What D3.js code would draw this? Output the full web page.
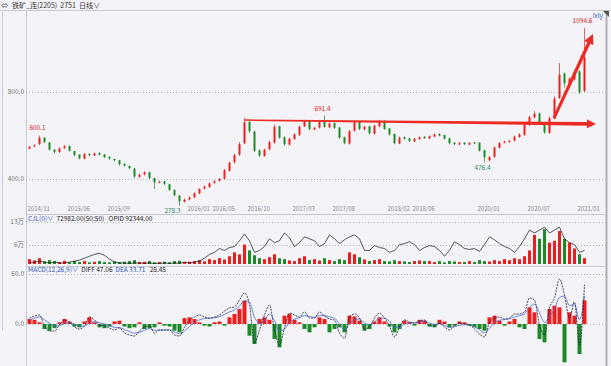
<!DOCTYPE html>
<html><head><meta charset="utf-8">
<script src="https://cdn.jsdelivr.net/npm/d3@7"></script>
<style>
html,body{margin:0;padding:0;background:#f4f4f8;}
svg{display:block;font-family:"Noto Sans CJK SC","Noto Sans",sans-serif;}
</style></head><body>
<svg id="c" width="611" height="366"></svg>
<script>
const title = "铁矿_连(2205)  2751  日线∨";
const opens = [540,550,560,590,568,535,524,542,552,528, 512,494,516,508,520,513,502,492,486,470,
 460,448,410,421,432,404,383,389,376,350, 324,296,306,316,334,356,363,382,392,402,
 438,478,512,565,662,618,532,506,537,568, 642,592,558,584,603,642,667,628,637,668,
 638,657,637,592,563,622,662,628,642,608, 643,667,632,607,563,592,587,573,583,594,
 586,595,607,602,587,567,558,567,558,568, 567,532,486,502,543,567,570,577,593,603,
 648,683,702,658,612,678,772,885,838,858, 895,805];
const highs = [552,560,600.1,592,570,538,545,556,554,530, 514,520,518,522,522,515,504,494,488,472,
 462,450,424,436,434,406,392,392,378,352, 326,310,320,338,358,370,384,394,404,446,
 480,516,570,682,668,622,536,540,576,650, 645,596,590,610,645,672,670,640,672,691.4,
 660,660,640,595,625,668,665,645,645,650, 672,670,635,610,595,596,590,588,596,597,
 600,610,610,604,590,570,570,569,570,570, 570,535,505,550,570,576,580,600,610,656,
 692,712,705,660,686,780,933,890,868,900, 900,1094.6];
const lows = [536,545,556,565,530,518,520,538,526,505, 490,490,505,505,508,496,488,482,462,456,
 444,404,406,416,400,354,380,372,345,320, 278.3,292,302,312,330,352,360,378,388,398,
 434,470,506,560,612,524,500,502,532,562, 585,552,554,580,598,638,624,624,632,636,
 634,630,585,560,558,618,625,624,605,604, 638,626,600,560,560,580,570,570,580,584,
 583,592,596,582,560,555,555,556,555,560, 526,476.4,482,498,540,564,566,572,590,598,
 644,678,650,607,608,675,768,820,832,852, 790,800];
const closes = [548,555,590,570,535,525,540,550,530,510, 495,515,510,518,512,500,494,487,468,462,
 450,412,420,430,405,385,387,378,350,326, 298,305,315,335,354,365,380,390,400,440,
 475,510,560,660,620,530,508,535,570,640, 590,560,585,605,640,665,630,635,665,640,
 655,635,590,565,620,660,630,640,610,645, 665,630,605,565,590,585,575,585,592,588,
 597,605,600,585,565,560,565,560,566,565, 530,500,500,545,565,572,575,595,605,650,
 685,700,655,615,680,770,880,840,860,890, 800,960];
// volume and open interest, thousands of lots
const volumes = [15,11,18,8,12,9,6,10,5,9, 6,9,5,7,9,6,5,8,6,7, 9,12,6,7,9,5,6,7,5,9,
 10,6,7,9,12,8,15,12,18,14, 24,36,30,60,42,27,18,15,21,30, 18,15,11,9,18,24,12,15,11,18,
 12,9,15,12,36,30,21,14,9,12, 15,9,8,12,9,8,6,9,11,9, 9,6,9,5,9,8,6,6,9,6,
 12,9,8,12,9,15,12,18,15,24, 42,90,78,108,66,72,102,78,66,48, 30,18];
const openInterest = [3,6,9,6,3,6,3,3,6,9, 12,18,24,30,33,27,15,6,3,3, 2,3,3,2,3,2,2,3,2,3,
 2,6,3,6,9,18,30,36,48,42, 51,54,72,93,72,36,42,54,78,66, 72,96,81,54,66,84,78,72,54,63,
 90,78,63,75,84,90,78,42,42,57, 51,48,36,42,60,63,69,60,42,51, 57,54,42,24,42,69,60,48,45,48,
 39,60,84,75,63,54,48,36,54,78, 105,96,105,114,96,105,114,78,66,60, 36,42];
const diff = [7.2,9.6,10.8,-2.4,-8.4,-8.4,-1.2,4.8,2.4,-3.6, -6,-2.4,8.4,4.8,-1.2,-2.4,-4.8,-7.2,-4.8,-10.8,
 -13.2,-14.4,-8.4,-3.6,-2.4,-10.8,-7.2,-7.2,-7.2,-13.2, -14.4,-3.6,4.8,8.4,10.8,8.4,7.2,8.4,10.8,15.6,
 19.2,20.4,28.8,37.2,22.8,-22.8,-7.2,10.8,22.8,-7.2, -25.2,-4.8,13.2,10.8,8.4,14.4,7.2,7.2,14.4,9.6,
 6,4.8,-10.8,-16.8,8.4,12,7.2,-6,-3.6,7.2, 13.2,7.2,-2.4,-15.6,-3.6,4.8,2.4,1.2,3.6,4.8,
 -2.4,-2.4,1.2,-3.6,-7.2,-2.4,1.2,0,-1.2,-6, -12,-15.6,2.4,7.2,8.4,6,7.2,12,12,14.4,
 31.2,28.8,-1.2,-13.2,19.2,31.2,54,34.8,7.2,26.4, -25.2,47.06];
const dea = [5,7,8.5,5,1,-2.5,-2,0.5,1.5,0, -2.5,-2.5,1.5,2.8,1.5,0,-2,-4,-4.3,-6.5,
 -9,-11,-10,-7.5,-5.5,-7.5,-7.4,-7.3,-7.2,-9.5, -11.5,-8.5,-3,1.5,5,6.5,6.8,7.4,8.8,11.5,
 14.5,17,21.5,28,26,8,1,4,12,4, -8,-6,2,6,7.5,10,9,8,10.5,10, 8.5,7,0,-7,0,5,6,1,-1,2.5,
 7,7,3,-4,-4,0,1.2,1.2,2.3,3.5, 1,-0.5,0.3,-1.5,-4,-3.2,-1.5,-0.8,-1,-3,
 -7,-10.5,-5,1,4.5,5.3,6.2,8.5,10,12, 20,24,13.5,2,9,18,32,33.5,22,24, 5,33.71];
const macdHist = [6,5,2,-6,-8,-5,2,6,3,-3, -4,3,8,2,-4,-5,-3,3,4,-3, -5,-4,2,-6,-5,-4,2,-2,-3,-8,
 -10,7,8,6,2,-2,-3,2,3,-2, 8,12,18,28,-14,-24,6,8,5,-18, -28,10,12,5,2,-6,-10,-4,8,6,
 -10,-6,-4,-10,10,9,4,-8,-6,3, 8,3,-3,-10,-6,4,2,-2,5,4, -3,-4,5,3,-4,-2,3,2,-2,-4,
 -6,-8,8,10,4,-2,3,6,-4,-6, 20,14,-18,-22,18,22,20,-46,14,10, -36,28.45];
const priceTicks = [400, 800];
const volTicks = [60, 130];
const volTickLabels = ["6万", "13万"];
const macdTicks = [0, 60];
const dateTickIndex = [0, 8, 16, 32, 37, 44, 53, 61, 72, 77, 90, 100, 110];
const dateTickLabels = ["2014/11","2015/06","2015/09","2016/01","2016/05","2016/10","2017/03","2017/08","2018/02","2018/06","2020/01","2020/07","2021/01"];
const markIndex = [2, 59, 91, 30, 111];
const markText = ["600.1", "691.4", "476.4", "278.3", "1094.6"];
const markIsHigh = [true, true, false, false, true];
const arrowFrom = [[43.1, 671], [104.9, 680]];
const arrowTo = [[113.3, 653], [112.7, 1067]];

const N = closes.length;
const W = 611, H = 366;
const RED = "#ee1d1d", GREEN = "#1b8a27";
const svg = d3.select("#c");
const x = d3.scaleLinear().domain([0, N - 1]).range([29.5, 29.5 + 5 * (N - 1)]);
const yP = d3.scaleLinear().domain([400, 800]).range([179, 92]);
const yV = d3.scaleLinear().domain([0, 130]).range([264, 222]);
const yM = d3.scaleLinear().domain([0, 60]).range([324, 274]);
const L = 26, R = 606;

svg.append("rect").attr("width", W).attr("height", H).attr("fill", "#f4f4f8");
const g0 = svg.append("g").attr("stroke", "#c8c8d0").attr("stroke-width", 1);
g0.append("line").attr("x1", 0).attr("x2", W).attr("y1", 10.5).attr("y2", 10.5);
g0.append("line").attr("x1", L + 0.5).attr("x2", L + 0.5).attr("y1", 10).attr("y2", H);
g0.append("line").attr("x1", 2.5).attr("x2", 2.5).attr("y1", 12).attr("y2", 330);
g0.append("line").attr("x1", R + 0.5).attr("x2", R + 0.5).attr("y1", 10).attr("y2", H).attr("stroke", "#b0b0b8").attr("stroke-width", 2);
g0.append("line").attr("x1", L).attr("x2", R).attr("y1", 214.5).attr("y2", 214.5);
g0.append("line").attr("x1", L).attr("x2", R).attr("y1", 266.5).attr("y2", 266.5);
svg.append("path").attr("d", "M603,11 L609,11 L609,17 Z").attr("fill", "#555");

svg.append("text").attr("x", 1).attr("y", 8).attr("font-size", 7).attr("fill", "#555").text("⇔");
svg.append("text").attr("x", 12).attr("y", 8).attr("font-size", 7).attr("fill", "#333").attr("xml:space", "preserve").text(title);
svg.append("text").attr("x", 603).attr("y", 18).attr("font-size", 6.5).attr("fill", "#3456c8").attr("text-anchor", "end").text("Ixly");

function grid(scale, ticks, labels) {
  ticks.forEach((t, k) => {
    svg.append("line").attr("x1", L).attr("x2", R).attr("y1", Math.round(scale(t)) + 0.5).attr("y2", Math.round(scale(t)) + 0.5)
      .attr("stroke", "#b4b4bc").attr("stroke-dasharray", "1,2");
    svg.append("text").attr("x", 24).attr("y", scale(t)).attr("dy", "0.35em").attr("text-anchor", "end")
      .attr("font-size", 6.5).attr("fill", "#777").text(labels[k]);
  });
}
grid(yP, priceTicks, priceTicks.map(d => d.toFixed(1)));
grid(yV, volTicks, volTickLabels);
grid(yM, macdTicks, macdTicks.map(d => d.toFixed(1)));

const idx = d3.range(N);
const up = i => closes[i] >= opens[i];
const cg = svg.append("g");
cg.selectAll("line").data(idx).join("line")
  .attr("x1", i => x(i)).attr("x2", i => x(i))
  .attr("y1", i => yP(highs[i])).attr("y2", i => yP(lows[i]))
  .attr("stroke", i => up(i) ? RED : GREEN).attr("stroke-width", 0.7);
cg.selectAll("rect").data(idx).join("rect")
  .attr("x", i => x(i) - 1).attr("width", 2)
  .attr("y", i => yP(Math.max(opens[i], closes[i])))
  .attr("height", i => Math.max(1, Math.abs(yP(opens[i]) - yP(closes[i]))))
  .attr("fill", i => up(i) ? RED : GREEN);

svg.selectAll("text.dt").data(dateTickIndex).join("text").attr("class", "dt")
  .attr("x", i => x(i) - 2).attr("y", 211).attr("font-size", 6).attr("fill", "#8a8a92")
  .text((d, k) => dateTickLabels[k]);

markIndex.forEach((i, k) => {
  const hi = markIsHigh[k];
  const yy = hi ? yP(highs[i]) - 5 : yP(lows[i]) + 8;
  const dx = (k === 3) ? -7 : -2;
  svg.append("text").attr("x", x(i) + dx).attr("y", yy).attr("text-anchor", "middle")
    .attr("font-size", 6.5).attr("fill", hi ? "#e02020" : "#2a8a62").text(markText[k]);
});

function arrow(f, t, w0, w1, hl, hw) {
  const x0 = x(f[0]), y0 = yP(f[1]), x1 = x(t[0]), y1 = yP(t[1]);
  const dx = x1 - x0, dy = y1 - y0, len = Math.hypot(dx, dy);
  const ux = dx / len, uy = dy / len, nx = -uy, ny = ux;
  const bx = x1 - ux * hl, by = y1 - uy * hl;
  const pts = [
    [x0 + nx * w0 / 2, y0 + ny * w0 / 2], [bx + nx * w1 / 2, by + ny * w1 / 2], [bx + nx * hw, by + ny * hw],
    [x1, y1], [bx - nx * hw, by - ny * hw], [bx - nx * w1 / 2, by - ny * w1 / 2], [x0 - nx * w0 / 2, y0 - ny * w0 / 2]];
  svg.append("path").attr("d", d3.line()(pts) + "Z").attr("fill", "#ee2a24");
}
arrow(arrowFrom[0], arrowTo[0], 1.4, 3.6, 9, 4.5);
arrow(arrowFrom[1], arrowTo[1], 3, 3.4, 10, 5);

const vh = svg.append("text").attr("x", 28).attr("y", 220.5).attr("font-size", 6.5).attr("xml:space", "preserve");
vh.append("tspan").attr("fill", "#2b4fc0").text("CJL(0)∨ ");
vh.append("tspan").attr("fill", "#222").text(" 72982.00(50:50)   OPID 92344.00");
svg.append("g").selectAll("rect").data(idx).join("rect")
  .attr("x", i => x(i) - 1.5).attr("width", 3)
  .attr("y", i => yV(volumes[i])).attr("height", i => yV(0) - yV(volumes[i]))
  .attr("fill", i => up(i) ? RED : GREEN);
svg.append("path").datum(idx)
  .attr("d", d3.line().x(i => x(i)).y(i => yV(openInterest[i])))
  .attr("fill", "none").attr("stroke", "#111").attr("stroke-width", 0.7);

const mh = svg.append("text").attr("x", 28).attr("y", 272).attr("font-size", 6.5).attr("xml:space", "preserve");
mh.append("tspan").attr("fill", "#2b4fc0").text("MACD(12,26,9)∨ ");
mh.append("tspan").attr("fill", "#222").text(" DIFF 47.06 ");
mh.append("tspan").attr("fill", "#2b4fc0").text(" DEA 33.71 ");
mh.append("tspan").attr("fill", "#222").text("  28.45");
svg.append("g").selectAll("rect").data(idx).join("rect")
  .attr("x", i => x(i) - 2).attr("width", 4)
  .attr("y", i => Math.min(yM(macdHist[i]), yM(0)))
  .attr("height", i => Math.abs(yM(macdHist[i]) - yM(0)))
  .attr("fill", i => macdHist[i] >= 0 ? RED : GREEN);
svg.append("path").datum(idx)
  .attr("d", d3.line().curve(d3.curveMonotoneX).x(i => x(i)).y(i => yM(dea[i])))
  .attr("fill", "none").attr("stroke", "#4a68d0").attr("stroke-width", 0.8);
svg.append("path").datum(idx)
  .attr("d", d3.line().curve(d3.curveMonotoneX).x(i => x(i)).y(i => yM(diff[i])))
  .attr("fill", "none").attr("stroke", "#1a1a3a").attr("stroke-width", 0.8).attr("stroke-dasharray", "2,1");
</script>
</body></html>
